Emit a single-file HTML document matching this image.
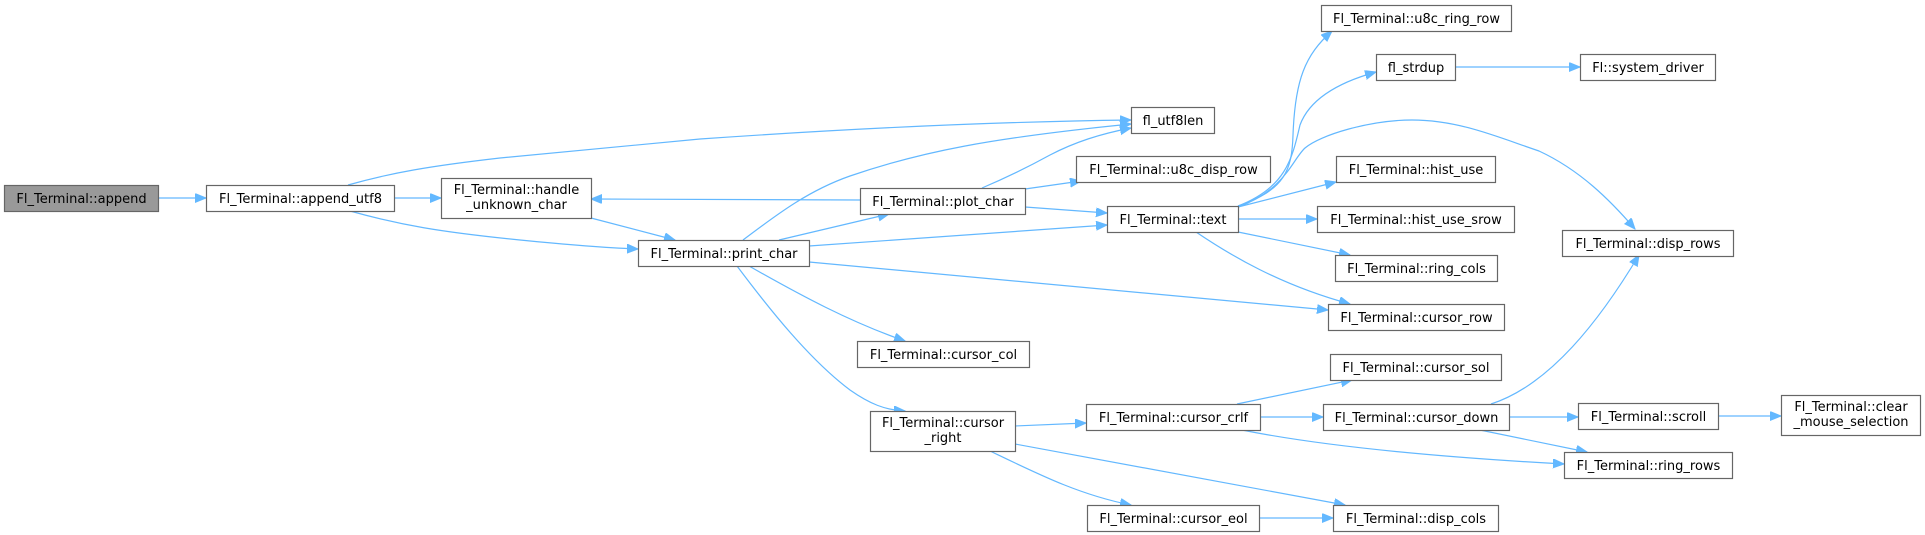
<!DOCTYPE html>
<html><head><meta charset="utf-8"><style>
html,body{margin:0;padding:0;background:#fff;}
svg{display:block;}
text{font-family:"DejaVu Sans","Liberation Sans",sans-serif;font-size:13px;fill:#000;}
.n{fill:#fff;stroke:#666;stroke-width:1.2;}
.e{fill:none;stroke:#63b8ff;stroke-width:1.2;}
</style></head><body>
<svg width="1925" height="535" viewBox="0 0 1925 535" xmlns="http://www.w3.org/2000/svg">
<defs><marker id="a" markerUnits="userSpaceOnUse" markerWidth="12" markerHeight="10" refX="11" refY="4.5" orient="auto"><path d="M0,0 L11,4.5 L0,9 z" fill="#63b8ff" stroke="#63b8ff"/></marker></defs>
<g marker-end="url(#a)" class="e">
<path class="e" d="M159,198 L206,198"/>
<path class="e" d="M394,198 L441,198"/>
<path class="e" d="M348,185 C390,173 430,166 500,158 L700,139 C900,125 1050,121 1131,120"/>
<path class="e" d="M350,211 C400,225 440,232 520,240 C580,246 610,248 638,249"/>
<path class="e" d="M591,218 L675,240"/>
<path class="e" d="M860,200 L591,199"/>
<path class="e" d="M743,240 C780,212 810,190 850,176 C920,152 990,138 1131,124"/>
<path class="e" d="M982,188 C1010,176 1030,166 1050,155 C1075,142 1100,134 1131,128"/>
<path class="e" d="M1025,189 L1081,181"/>
<path class="e" d="M1025,207 L1107,213"/>
<path class="e" d="M779,240 L889,214"/>
<path class="e" d="M809,246 L1107,225"/>
<path class="e" d="M809,262 L1328,310"/>
<path class="e" d="M749,266 C800,295 850,322 905,341"/>
<path class="e" d="M737,266 C770,310 810,360 850,390 C870,404 885,410 905,411"/>
<path class="e" d="M1238,206 C1285,190 1292,170 1293,135 C1295,80 1305,55 1332,31"/>
<path class="e" d="M1238,206 C1285,188 1292,160 1300,125 C1310,98 1340,82 1376,72"/>
<path class="e" d="M1238,207 C1285,190 1292,160 1305,148 C1320,135 1370,120 1412,120 C1460,120 1500,138 1539,151 C1580,170 1610,200 1635,229"/>
<path class="e" d="M1238,207 L1336,182"/>
<path class="e" d="M1238,219 L1317,219"/>
<path class="e" d="M1238,232 L1350,255"/>
<path class="e" d="M1196,232 C1230,255 1280,285 1350,304"/>
<path class="e" d="M1015,426 L1086,423"/>
<path class="e" d="M1015,444 L1345,505"/>
<path class="e" d="M990,451 C1040,475 1080,495 1131,505"/>
<path class="e" d="M1259,518 L1333,518"/>
<path class="e" d="M1237,404 L1352,380"/>
<path class="e" d="M1260,417 L1323,417"/>
<path class="e" d="M1237,429 C1300,442 1400,455 1564,464"/>
<path class="e" d="M1491,404 C1550,385 1600,320 1639,255"/>
<path class="e" d="M1509,417 L1578,417"/>
<path class="e" d="M1475,429 L1587,452"/>
<path class="e" d="M1718,416 L1781,416"/>
<path class="e" d="M1455,67 L1580,67"/>
</g>
<g>
<rect x="4.5" y="185.5" width="154" height="26" fill="#999" stroke="#666" stroke-width="1.2"/><text x="81.5" y="203" text-anchor="middle">Fl_Terminal::append</text>
<rect class="n" x="206.5" y="185.5" width="188" height="26"/><text x="300.5" y="203" text-anchor="middle">Fl_Terminal::append_utf8</text>
<rect class="n" x="441.5" y="178.5" width="150" height="40"/><text x="516.5" y="194" text-anchor="middle">Fl_Terminal::handle</text><text x="516.5" y="209" text-anchor="middle">_unknown_char</text>
<rect class="n" x="638.5" y="240.5" width="171" height="26"/><text x="724" y="258" text-anchor="middle">Fl_Terminal::print_char</text>
<rect class="n" x="1131.5" y="107.5" width="83" height="26"/><text x="1173" y="125" text-anchor="middle">fl_utf8len</text>
<rect class="n" x="1076.5" y="156.5" width="194" height="26"/><text x="1173.5" y="174" text-anchor="middle">Fl_Terminal::u8c_disp_row</text>
<rect class="n" x="860.5" y="188.5" width="165" height="26"/><text x="943" y="206" text-anchor="middle">Fl_Terminal::plot_char</text>
<rect class="n" x="1107.5" y="206.5" width="131" height="26"/><text x="1173" y="224" text-anchor="middle">Fl_Terminal::text</text>
<rect class="n" x="857.5" y="341.5" width="172" height="26"/><text x="943.5" y="359" text-anchor="middle">Fl_Terminal::cursor_col</text>
<rect class="n" x="870.5" y="411.5" width="145" height="40"/><text x="943" y="427" text-anchor="middle">Fl_Terminal::cursor</text><text x="943" y="442" text-anchor="middle">_right</text>
<rect class="n" x="1086.5" y="404.5" width="174" height="26"/><text x="1173.5" y="422" text-anchor="middle">Fl_Terminal::cursor_crlf</text>
<rect class="n" x="1087.5" y="505.5" width="172" height="26"/><text x="1173.5" y="523" text-anchor="middle">Fl_Terminal::cursor_eol</text>
<rect class="n" x="1321.5" y="5.5" width="190" height="26"/><text x="1416.5" y="23" text-anchor="middle">Fl_Terminal::u8c_ring_row</text>
<rect class="n" x="1376.5" y="54.5" width="79" height="26"/><text x="1416" y="72" text-anchor="middle">fl_strdup</text>
<rect class="n" x="1580.5" y="54.5" width="135" height="26"/><text x="1648" y="72" text-anchor="middle">Fl::system_driver</text>
<rect class="n" x="1336.5" y="156.5" width="159" height="26"/><text x="1416" y="174" text-anchor="middle">Fl_Terminal::hist_use</text>
<rect class="n" x="1317.5" y="206.5" width="197" height="26"/><text x="1416" y="224" text-anchor="middle">Fl_Terminal::hist_use_srow</text>
<rect class="n" x="1335.5" y="255.5" width="162" height="26"/><text x="1416.5" y="273" text-anchor="middle">Fl_Terminal::ring_cols</text>
<rect class="n" x="1328.5" y="304.5" width="176" height="26"/><text x="1416.5" y="322" text-anchor="middle">Fl_Terminal::cursor_row</text>
<rect class="n" x="1330.5" y="354.5" width="171" height="26"/><text x="1416" y="372" text-anchor="middle">Fl_Terminal::cursor_sol</text>
<rect class="n" x="1323.5" y="404.5" width="186" height="26"/><text x="1416.5" y="422" text-anchor="middle">Fl_Terminal::cursor_down</text>
<rect class="n" x="1333.5" y="505.5" width="165" height="26"/><text x="1416" y="523" text-anchor="middle">Fl_Terminal::disp_cols</text>
<rect class="n" x="1562.5" y="230.5" width="171" height="26"/><text x="1648" y="248" text-anchor="middle">Fl_Terminal::disp_rows</text>
<rect class="n" x="1578.5" y="403.5" width="140" height="26"/><text x="1648.5" y="421" text-anchor="middle">Fl_Terminal::scroll</text>
<rect class="n" x="1564.5" y="452.5" width="168" height="26"/><text x="1648.5" y="470" text-anchor="middle">Fl_Terminal::ring_rows</text>
<rect class="n" x="1781.5" y="395.5" width="139" height="40"/><text x="1851" y="411" text-anchor="middle">Fl_Terminal::clear</text><text x="1851" y="426" text-anchor="middle">_mouse_selection</text>
</g>
</svg>
</body></html>
